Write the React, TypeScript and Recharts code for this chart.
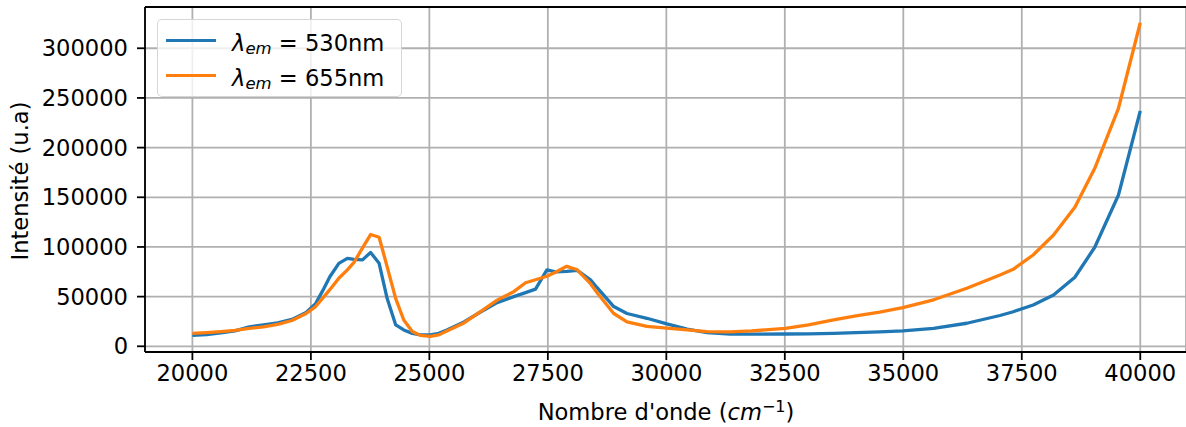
import React from "react";
import {
  LineChart,
  Line,
  XAxis,
  YAxis,
  CartesianGrid,
  Legend,
  ReferenceLine,
  Label,
} from "recharts";

// Wavenumbers (cm^-1)
const wavenumbers = [
  20000, 20300, 20600, 20900, 21200, 21500, 21800, 22100, 22400, 22600,
  22750, 22900, 23090, 23270, 23410, 23590, 23760, 23940, 24110, 24290,
  24460, 24640, 24810, 25020, 25200, 25370, 25730, 26080, 26430, 26780,
  27030, 27240, 27480, 27660, 27900, 28120, 28400, 28540, 28890, 29170,
  29590, 30010, 30440, 30860, 31350, 31800, 32510, 33000, 33530, 34000,
  34500, 34990, 35640, 36340, 37040, 37320, 37740, 38170, 38620, 39040,
  39540, 40000,
];

// Intensity for emission at 530 nm
const em530 = [
  11000, 11800, 13500, 15500, 19500, 21500, 23500, 27000, 34000, 43000,
  56000, 70000, 83500, 88500, 87500, 87000, 94500, 83500, 48000, 21500,
  16500, 13000, 11500, 11500, 13000, 16500, 24500, 34500, 44000, 50000,
  54000, 57500, 77000, 75000, 75500, 76500, 67000, 59000, 40000, 33000,
  28200, 22500, 17200, 13800, 12400, 12200, 12400, 12600, 13100, 13800,
  14600, 15600, 18100, 23200, 31000, 34800, 41600, 51600, 69500, 99700,
  152300, 236900,
];

// Intensity for emission at 655 nm
const em655 = [
  13000, 13800, 14800, 16000, 18000, 19500, 22000, 26000, 33000, 40000,
  48500, 57000, 68500, 77000, 84500, 99000, 112500, 109800, 80000, 48000,
  26500, 15000, 11000, 10000, 11500, 15500, 23500, 35000, 46500, 55000,
  64000, 67000, 70500, 74500, 80500, 77000, 63000, 54000, 33000, 24500,
  20000, 18200, 16500, 14800, 14500, 15500, 18000, 21500, 26500, 30500,
  34500, 39000, 46800, 58400, 71800, 77500, 91900, 112000, 139900, 179200,
  239600, 325700,
];

const xTicks = [20000, 22500, 25000, 27500, 30000, 32500, 35000, 37500, 40000];
const yTicks = [0, 50000, 100000, 150000, 200000, 250000, 300000];

const seriesNames = ["530nm", "655nm"];

const data = wavenumbers.map((w, i) => ({ w, a: em530[i], b: em655[i] }));

const FONT = "'DejaVu Sans', sans-serif";
const FS = 22.6;
const BLUE = "#1f77b4";
const ORANGE = "#ff7f0e";
const X_DOMAIN: [number, number] = [19000, 40965];
const Y_DOMAIN: [number, number] = [-5740, 341540];

const XLabel = (props: any) => {
  const vb = props.viewBox || {};
  const cx = 666;
  const y = (vb.y ?? 352) + 68;
  return (
    <text
      x={cx}
      y={y}
      textAnchor="middle"
      fontFamily={FONT}
      fontSize={FS}
      fill="#000"
    >
      <tspan>Nombre d'onde (</tspan>
      <tspan fontStyle="italic">cm</tspan>
      <tspan fontSize={16} dy={-8.5}>
        −1
      </tspan>
      <tspan dy={8.5}>)</tspan>
    </text>
  );
};

const YLabel = () => {
  const x = 28.3;
  const y = 181;
  return (
    <text
      x={x}
      y={y}
      transform={`rotate(-90, ${x}, ${y})`}
      textAnchor="middle"
      fontFamily={FONT}
      fontSize={FS}
      fill="#000"
    >
      Intensité (u.a)
    </text>
  );
};

const LegendContent = (props: any) => {
  const payload = (props.payload || []) as any[];
  return (
    <div
      style={{
        position: "relative",
        width: 245,
        height: 78,
        boxSizing: "border-box",
        border: "1.8px solid rgba(204,204,204,0.8)",
        borderRadius: 5,
        background: "rgba(255,255,255,0.8)",
        fontFamily: FONT,
        fontSize: FS,
        color: "#000",
      }}
    >
      {payload.map((entry, i) => {
        const lineY = 20.3 + i * 35;
        const textTop = 9.5 + i * 35;
        return (
          <React.Fragment key={i}>
            <div
              style={{
                position: "absolute",
                left: 8,
                top: lineY - 1.65,
                width: 50,
                height: 3.3,
                background: entry.color,
              }}
            />
            <div
              style={{
                position: "absolute",
                left: 74,
                top: textTop,
                height: 26,
                lineHeight: "26px",
                whiteSpace: "nowrap",
              }}
            >
              <span style={{ fontStyle: "italic" }}>λ</span>
              <span
                style={{
                  fontStyle: "italic",
                  fontSize: 16.5,
                  position: "relative",
                  top: 3,
                }}
              >
                em
              </span>
              <span> = {entry.value}</span>
            </div>
          </React.Fragment>
        );
      })}
    </div>
  );
};

export default function App() {
  return (
    <div
      style={{
        position: "absolute",
        left: 0,
        top: 0,
        width: 1186,
        height: 427,
        background: "#fff",
      }}
    >
      <LineChart
        width={1186}
        height={427}
        data={data}
        margin={{ top: 7, right: 0, bottom: 0, left: 0 }}
      >
        <CartesianGrid
          stroke="#b0b0b0"
          strokeWidth={1.8}
          horizontal
          vertical
        />
        <XAxis
          dataKey="w"
          type="number"
          domain={X_DOMAIN}
          allowDataOverflow
          ticks={xTicks}
          interval={0}
          height={75}
          tickSize={8}
          tickMargin={5}
          axisLine={{ stroke: "#000", strokeWidth: 1.8 }}
          tickLine={{ stroke: "#000", strokeWidth: 1.8 }}
          tick={{ fill: "#000", fontSize: FS, fontFamily: FONT }}
        >
          <Label content={XLabel} />
        </XAxis>
        <YAxis
          type="number"
          domain={Y_DOMAIN}
          allowDataOverflow
          ticks={yTicks}
          interval={0}
          width={145}
          tickSize={8}
          tickMargin={9}
          axisLine={{ stroke: "#000", strokeWidth: 1.8 }}
          tickLine={{ stroke: "#000", strokeWidth: 1.8 }}
          tick={{ fill: "#000", fontSize: FS, fontFamily: FONT }}
        >
          <Label content={YLabel} />
        </YAxis>
        <ReferenceLine
          y={Y_DOMAIN[1]}
          stroke="#000"
          strokeWidth={1.8}
          ifOverflow="visible"
        />
        <Line
          type="linear"
          dataKey="a"
          name={seriesNames[0]}
          stroke={BLUE}
          strokeWidth={3.3}
          dot={false}
          activeDot={false}
          isAnimationActive={false}
          strokeLinejoin="round"
        />
        <Line
          type="linear"
          dataKey="b"
          name={seriesNames[1]}
          stroke={ORANGE}
          strokeWidth={3.3}
          dot={false}
          activeDot={false}
          isAnimationActive={false}
          strokeLinejoin="round"
        />
        <Legend
          layout="vertical"
          align="center"
          verticalAlign="middle"
          content={LegendContent}
          wrapperStyle={{ position: "absolute", left: 157, top: 19, width: 245, height: 78 }}
        />
      </LineChart>
    </div>
  );
}
